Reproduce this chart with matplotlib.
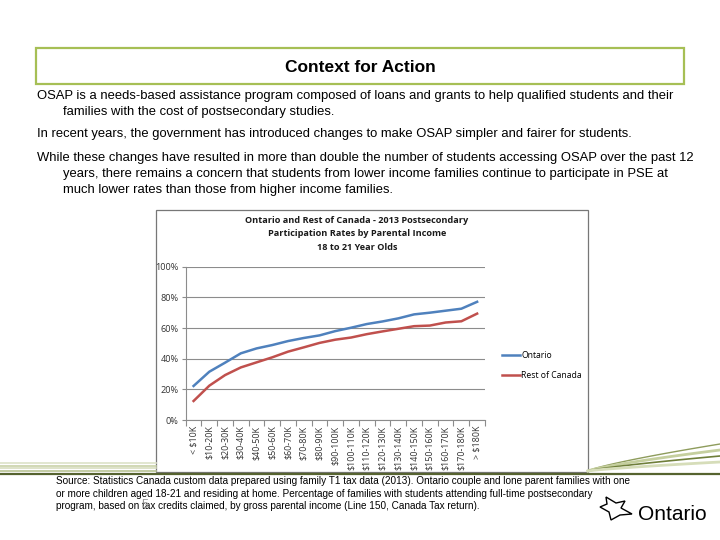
import numpy as np
import matplotlib
matplotlib.use("Agg")
import matplotlib.pyplot as plt
from matplotlib import font_manager
from matplotlib.patches import Rectangle, Polygon
from matplotlib.lines import Line2D
from matplotlib.ticker import PercentFormatter

names = {f.name for f in font_manager.fontManager.ttflist}
narrow = "Liberation Sans Narrow" if "Liberation Sans Narrow" in names else "Liberation Sans"
chart_font = "Open Sans" if "Open Sans" in names else "DejaVu Sans"

income = ["< $10K", "$10-20K", "$20-30K", "$30-40K", "$40-50K", "$50-60K", "$60-70K",
          "$70-80K", "$80-90K", "$90-100K", "$100-110K", "$110-120K", "$120-130K",
          "$130-140K", "$140-150K", "$150-160K", "$160-170K", "$170-180K", "> $180K"]
ontario = [22.2, 31.5, 37.4, 43.5, 46.7, 48.9, 51.5, 53.5, 55.2, 58.0, 60.2, 62.6,
           64.3, 66.3, 68.9, 70.0, 71.3, 72.6, 77.1]
rest_of_canada = [12.4, 22.4, 29.3, 34.3, 37.6, 40.9, 44.6, 47.4, 50.3, 52.4, 53.8, 56.0,
                  57.8, 59.5, 61.2, 61.6, 63.6, 64.4, 69.4]

W, H = 720, 540
fig = plt.figure(figsize=(7.2, 5.4), dpi=100)


def fx(x):
    return x / W


def fy(y):
    return 1 - y / H


# heading box
fig.patches.append(Rectangle((fx(36), fy(84)), fx(648), 36 / H, transform=fig.transFigure,
                             facecolor="white", edgecolor="#A6BF55", lw=1.6, zorder=-5))
fig.text(fx(360), fy(67), "Context for Action", ha="center", va="center",
         fontsize=12.5, fontweight="bold", family=narrow)

body = [
    (37, 96, "OSAP is a needs-based assistance program composed of loans and grants to help qualified students and their"),
    (63, 112, "families with the cost of postsecondary studies."),
    (37, 134, "In recent years, the government has introduced changes to make OSAP simpler and fairer for students."),
    (37, 158, "While these changes have resulted in more than double the number of students accessing OSAP over the past 12"),
    (63, 174, "years, there remains a concern that students from lower income families continue to participate in PSE at"),
    (63, 190, "much lower rates than those from higher income families."),
]
for x, y, s in body:
    fig.text(fx(x), fy(y), s, ha="left", va="center", fontsize=9.4, family=narrow)

# decoration band
for y, c in [(463, "#DDE3C8"), (465.5, "#C9D2A8"), (468, "#D8DEC0"), (470.5, "#B9C493")]:
    fig.add_artist(Line2D([0, fx(156)], [fy(y), fy(y)], color=c, lw=1.2, transform=fig.transFigure))
fig.add_artist(Line2D([0, 1], [fy(473.5), fy(473.5)], color="#56632F", lw=1.6, transform=fig.transFigure))
t = np.linspace(0, 1, 40)
for y_end, c, lw in [(444, "#8E9C5C", 1.0), (450, "#C5CF9E", 2.0), (456, "#6F7F3A", 1.2), (462, "#D6DDB9", 2.0)]:
    xs = 588 + 132 * t
    ys = 471 - (471 - y_end) * t ** 0.8
    fig.add_artist(Line2D(fx(xs), fy(ys), color=c, lw=lw, transform=fig.transFigure))

# chart picture frame
frame = Rectangle((fx(156), fy(472)), fx(432), 262 / H, transform=fig.transFigure,
                  facecolor="white", edgecolor="#777777", lw=0.9, zorder=-5)
fig.patches.append(frame)
for y, s in [(220.5, "Ontario and Rest of Canada - 2013 Postsecondary"),
             (234, "Participation Rates by Parental Income"),
             (247.5, "18 to 21 Year Olds")]:
    fig.text(fx(357), fy(y), s, ha="center", va="center", fontsize=6.6,
             fontweight="bold", family=chart_font, color="#1A1A1A")

ax = fig.add_axes([fx(185.7), fy(420), fx(485 - 185.7), (420 - 266.7) / H], zorder=2)
ax.patch.set_alpha(0)
x = np.arange(len(income))
ax.plot(x, ontario, color="#4F81BD", lw=1.8, label="Ontario")
ax.plot(x, rest_of_canada, color="#C0504D", lw=1.8, label="Rest of Canada")
ax.set_xlim(-0.5, len(income) - 0.5)
ax.set_ylim(0, 100)
ax.set_yticks(np.arange(0, 101, 20))
ax.yaxis.set_major_formatter(PercentFormatter(decimals=0))
ax.grid(axis="y", color="#8C8C8C", lw=0.8)
ax.set_axisbelow(True)
ax.set_xticks(x)
ax.set_xticklabels(income, rotation=90, fontsize=6.4, family=chart_font, color="#333333")
ax.set_xticks(np.arange(-0.5, len(income), 1), minor=True)
ax.tick_params(axis="x", which="major", length=0, pad=4)
ax.tick_params(axis="x", which="minor", length=4, color="#8C8C8C", width=0.8)
ax.tick_params(axis="y", length=3, color="#8C8C8C", width=0.8, labelsize=6.6, pad=2, labelcolor="#333333")
for lab in ax.get_yticklabels():
    lab.set_family(chart_font)
for lab in ax.get_yticklabels() + ax.get_xticklabels():
    lab.set_clip_path(frame)
for side in ["top", "right"]:
    ax.spines[side].set_visible(False)
for side in ["left", "bottom"]:
    ax.spines[side].set_color("#8C8C8C")
    ax.spines[side].set_linewidth(0.8)

ax.legend(loc="center left", bbox_to_anchor=(fx(494), fy(365.5)), bbox_transform=fig.transFigure,
          frameon=False, handlelength=2.1, handletextpad=0.15, labelspacing=1.2,
          prop={"family": chart_font, "size": 6.2})

# source note
src = [
    "Source: Statistics Canada custom data prepared using family T1 tax data (2013). Ontario couple and lone parent families with one",
    "or more children aged 18-21 and residing at home. Percentage of families with students attending full-time postsecondary",
    "program, based on tax credits claimed, by gross parental income (Line 150, Canada Tax return).",
]
for i, s in enumerate(src):
    fig.text(fx(56), fy(481 + i * 12.7), s, ha="left", va="center", fontsize=7.2, family=narrow)
fig.text(fx(145), fy(505), "5", ha="center", va="center", fontsize=9, color="#999999", family=narrow)

# logo
tri = np.array([[606, 497], [616, 503], [625, 501], [621, 508], [632, 514], [620, 515],
                [611, 520], [609, 512], [600, 507], [607, 504]])
fig.patches.append(Polygon(np.column_stack([fx(tri[:, 0]), fy(tri[:, 1])]), closed=True,
                           transform=fig.transFigure, facecolor="none", edgecolor="black", lw=1.0))
fig.text(fx(638), fy(514), "Ontario", ha="left", va="center", fontsize=15, family=narrow)

fig.savefig("out.png", dpi=100)
